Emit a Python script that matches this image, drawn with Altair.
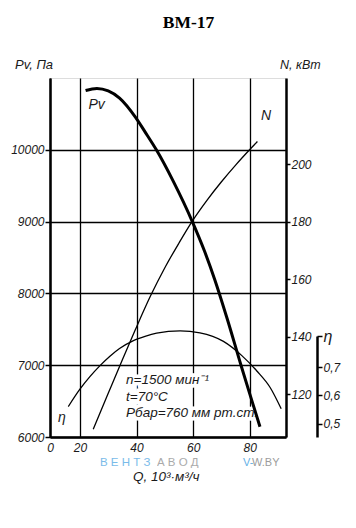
import altair as alt
import pandas as pd

# ---- data ----
q_pv = [22, 26, 30, 34, 39.6, 43, 47, 53, 59.7, 64, 67.7, 72, 76.9, 80, 83.6]
p_pv = [10826, 10855, 10820, 10720, 10455, 10250, 10000, 9560, 9000, 8590, 8184, 7650, 7000, 6600, 6143]

q_n = [24.7, 30, 35, 39.6, 45, 50, 55, 59.7, 65, 70, 75, 80.1, 82.7]
n_vals = [107.8, 120.3, 132.0, 142.5, 154.3, 164.0, 172.6, 180.2, 187.6, 193.9, 199.7, 205.2, 207.9]

q_eta = [15.9, 20.0, 23.6, 27.1, 30.6, 34, 38.9, 43, 47.1, 55.4, 62.4, 70.7, 77.2, 82.5, 87.2, 91.1]
eta_vals = [0.561, 0.622, 0.667, 0.705, 0.738, 0.765, 0.793, 0.808, 0.819, 0.827, 0.820,
            0.790, 0.740, 0.686, 0.628, 0.553]

x_ticks = [20, 40, 60, 80]
p_ticks = [6000, 7000, 8000, 9000, 10000]
n_ticks = [120, 140, 160, 180, 200]
eta_ticks = [0.5, 0.6, 0.7]

Q_DOM = [9.43, 92.8]
P_DOM = [6000, 11000]
N_DOM = [105.1, 230]
ETA_DOM = [0.454, 0.809]

notes = ["n=1500 мин⁻¹", "t=70°C", "Рбар=760 мм рт.ст."]
notes_q = [36.3, 36.3, 36.3]
notes_p = [6793, 6560, 6330]

W, H = 236, 359
FONT = "Liberation Sans Narrow, Liberation Sans, Arial, sans-serif"
INK = "#1a1a1a"

pv_df = pd.DataFrame({"Q": q_pv, "P": p_pv})
n_df = pd.DataFrame({"Q": q_n, "N": n_vals})
eta_df = pd.DataFrame({"Q": q_eta, "eta": eta_vals})
notes_df = pd.DataFrame({"Q": notes_q, "P": notes_p, "t": notes})

lab = dict(labelFont=FONT, labelFontStyle="italic", labelFontSize=12, labelColor=INK)
dom = dict(domainColor="black", domainWidth=2.5, tickColor="black", tickWidth=1.5)

xs = alt.Scale(domain=Q_DOM, nice=False, zero=False)
x_axis = alt.Axis(values=[Q_DOM[0]] + x_ticks, labelExpr="datum.value < 15 ? '0' : datum.label",
                  grid=True, gridColor="black", gridWidth=1.3, gridOpacity=1,
                  tickSize=0, labelPadding=5, labelFlush=False, labelOverlap=False,
                  title=None, **lab, **dom)
x_enc = alt.X("Q:Q", scale=xs, axis=x_axis)

p_scale = alt.Scale(domain=P_DOM, nice=False, zero=False)
p_axis = alt.Axis(values=p_ticks, orient="left", grid=True, gridColor="black", gridWidth=1.3,
                  gridOpacity=1, tickSize=5, labelPadding=1, format="d", title=None,
                  labelOverlap=False, **lab, **dom)

pv_line = alt.Chart(pv_df).mark_line(color="black", strokeWidth=3, interpolate="monotone").encode(
    x=x_enc, y=alt.Y("P:Q", scale=p_scale, axis=p_axis))

n_axis = alt.Axis(values=n_ticks, orient="right", grid=False, tickSize=4, labelPadding=1,
                  title=None, labelOverlap=False, **lab, **dom)
n_line = alt.Chart(n_df).mark_line(color="black", strokeWidth=1.3, interpolate="monotone").encode(
    x=x_enc, y=alt.Y("N:Q", scale=alt.Scale(domain=N_DOM, nice=False, zero=False), axis=n_axis))

eta_axis = alt.Axis(values=eta_ticks + [ETA_DOM[1]], orient="right", offset=31, grid=False,
                    tickSize=5, labelPadding=1, title=None, labelOverlap=False,
                    labelExpr="datum.value > 0.8 ? 'η' : replace(format(datum.value, '.1f'), '.', ',')",
                    labelFontSize={"condition": {"test": "datum.value > 0.8", "value": 16}, "value": 12},
                    labelFont=FONT, labelFontStyle="italic", labelColor=INK, **dom)
eta_line = alt.Chart(eta_df).mark_line(color="black", strokeWidth=1.3, interpolate="monotone").encode(
    x=x_enc, y=alt.Y("eta:Q", scale=alt.Scale(domain=ETA_DOM, range=[H, 258], nice=False, zero=False),
                     axis=eta_axis))

p_plain = alt.Y("P:Q", scale=p_scale, axis=None)

halo = alt.Chart(notes_df).mark_text(align="left", baseline="middle", font=FONT, fontStyle="italic",
                                     fontSize=13.5, stroke="white", strokeWidth=7, fill="white").encode(
    x=x_enc, y=p_plain, text="t:N")
notes_txt = alt.Chart(notes_df).mark_text(align="left", baseline="middle", font=FONT, fontStyle="italic",
                                          fontSize=13.5, color=INK).encode(
    x=x_enc, y=p_plain, text="t:N")

curve_labels = pd.DataFrame({"Q": [25.9, 85.8, 13.6], "P": [10617, 10475, 6260], "t": ["Pv", "N", "η"]})
cl_txt = alt.Chart(curve_labels).mark_text(align="center", baseline="middle", font=FONT,
                                           fontStyle="italic", fontSize=14, color=INK).encode(
    x=x_enc, y=p_plain, text="t:N")

def label(txt, x, y, **kw):
    props = dict(font=FONT, fontStyle="italic", fontSize=13, color=INK, baseline="middle", align="left")
    props.update(kw)
    return alt.Chart(pd.DataFrame({"t": [txt]})).mark_text(**props).encode(
        x=alt.value(x), y=alt.value(y), text="t:N")

title = label("ВМ-17", 138.5, -55, font="Liberation Serif", fontStyle="normal", fontWeight="bold",
              fontSize=17.5, align="center", color="black")
pv_t = label("Pv, Па", -35, -13)
n_t = label("N, кВт", 230, -13, fontSize=12.5)
wm1 = label("В  Е  Н  Т  З", 50, 385, fontStyle="normal", fontSize=11.5, color="#63b0e6", opacity=0.85)
wm2 = label("А  В  О  Д", 107, 385, fontStyle="normal", fontSize=11.5, color="#9c9c9c", opacity=0.85)
q_t = label("Q, 10³·м³/ч", 83, 399, fontSize=13.5)
wm3 = label("V-", 193, 385, fontStyle="normal", fontSize=11, color="#63b0e6", font="Liberation Sans")
wm4 = label("W.BY", 202, 385, fontStyle="normal", fontSize=11, color="#9c9c9c", font="Liberation Sans")

chart = alt.layer(
    halo, pv_line, n_line, eta_line, notes_txt, cl_txt,
    title, pv_t, n_t, wm1, wm2, q_t, wm3, wm4
).resolve_scale(y="independent").properties(
    width=W, height=H,
    autosize=alt.AutoSizeParams(type="none"),
    padding={"left": 42, "top": 70, "right": 60, "bottom": 80},
).configure_view(stroke="black", strokeWidth=2).configure(background="white")

chart.save("out.html", embed_options={"renderer": "svg", "actions": False})
